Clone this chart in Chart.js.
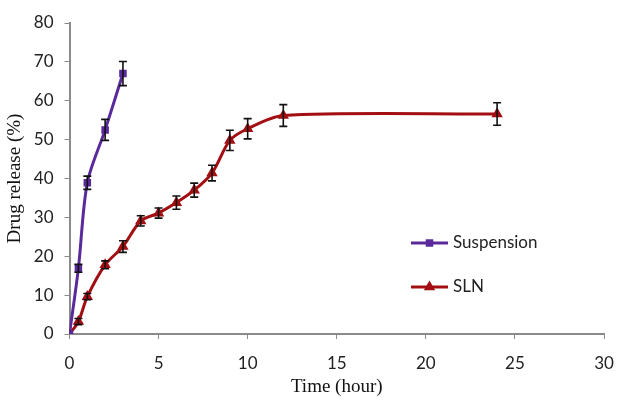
<!DOCTYPE html>
<html><head><meta charset="utf-8">
<script src="https://cdn.jsdelivr.net/npm/chart.js@4"></script>
<style>html,body{margin:0;padding:0;background:#fff}#wrap{width:617px;height:403px}</style>
</head><body><div id="wrap"><canvas id="c" width="617" height="403"></canvas></div>
<script>
const suspTime = [0, 0.5, 1, 2, 3];
const suspRelease = [0, 16.9, 38.9, 52.5, 67.0];
const suspErr = [0, 1.0, 1.7, 2.7, 3.1];
const slnTime = [0, 0.5, 1, 2, 3, 4, 5, 6, 7, 8, 9, 10, 12, 24];
const slnRelease = [0, 3.2, 9.6, 17.8, 22.5, 29.1, 31.1, 33.8, 37.0, 41.4, 49.8, 52.8, 56.2, 56.6];
const slnErr = [0, 0.8, 0.8, 1.0, 1.5, 1.3, 1.3, 1.7, 1.8, 2.0, 2.6, 2.6, 2.8, 2.9];
const xTicks = [0, 5, 10, 15, 20, 25, 30];
const yTicks = [0, 10, 20, 30, 40, 50, 60, 70, 80];
const seriesNames = ['Suspension', 'SLN'];

const PURPLE = '#5A2A9C', RED = '#A30E12';
const tickFont = {family: 'Lato', size: 17};
const titleFont = {family: 'Liberation Serif', size: 19};

function pts(xs, ys){ return xs.map((x,i)=>({x:x, y:ys[i]})); }

const errorBars = {
  id: 'errorBars',
  afterDatasetsDraw(chart){
    const ctx = chart.ctx, ys = chart.scales.y;
    const errs = [suspErr, slnErr];
    ctx.save();
    ctx.strokeStyle = '#111'; ctx.lineWidth = 1.6;
    chart.data.datasets.forEach((ds, di)=>{
      const meta = chart.getDatasetMeta(di);
      meta.data.forEach((el, i)=>{
        const e = errs[di][i]; if(!e) return;
        const v = ds.data[i].y;
        const t = ys.getPixelForValue(v+e), b = ys.getPixelForValue(v-e), x = el.x;
        ctx.beginPath();
        ctx.moveTo(x, t); ctx.lineTo(x, b);
        ctx.moveTo(x-4, t); ctx.lineTo(x+4, t);
        ctx.moveTo(x-4, b); ctx.lineTo(x+4, b);
        ctx.stroke();
      });
    });
    ctx.restore();
  }
};

const innerLegend = {
  id: 'innerLegend',
  afterDraw(chart){
    const ctx = chart.ctx;
    const items = [[seriesNames[0], PURPLE, 'rect', 243, 3.2], [seriesNames[1], RED, 'triangle', 287, 3.6]];
    ctx.save();
    items.forEach(([name, col, style, y, r])=>{
      ctx.strokeStyle = col; ctx.lineWidth = 3;
      ctx.beginPath(); ctx.moveTo(411, y); ctx.lineTo(448, y); ctx.stroke();
      ctx.fillStyle = col;
      Chart.helpers.drawPoint(ctx, {pointStyle: style, radius: r, borderWidth: 1}, 429.5, y);
      ctx.fillStyle = '#222'; ctx.font = '17px Lato'; ctx.textBaseline = 'middle';
      ctx.fillText(name, 453, y);
    });
    ctx.restore();
  }
};

new Chart(document.getElementById('c'), {
  type: 'line',
  data: {
    datasets: [
      {label: seriesNames[0], data: pts(suspTime, suspRelease), borderColor: PURPLE, backgroundColor: PURPLE,
       borderWidth: 3, pointStyle: 'rect', pointRadius: 3.2, tension: 0.3},
      {label: seriesNames[1], data: pts(slnTime, slnRelease), borderColor: RED, backgroundColor: RED,
       borderWidth: 3, pointStyle: 'triangle', pointRadius: 3.6, tension: 0.3}
    ]
  },
  options: {
    responsive: false, animation: false,
    layout: {padding: {left: 0, right: 13, top: 23, bottom: 0}},
    plugins: {legend: {display: false}, tooltip: {enabled: false}},
    scales: {
      x: {type: 'linear', min: 0, max: 30,
        afterBuildTicks: s => { s.ticks = xTicks.map(v=>({value:v})); },
        afterFit: s => { s.height = 69; s.paddingLeft = 0; s.paddingRight = 0; },
        grid: {drawOnChartArea: false, drawTicks: true, tickLength: 5, tickColor: '#8a8a8a'},
        border: {color: '#8a8a8a', width: 2},
        ticks: {font: tickFont, color: '#222', padding: 14, maxRotation: 0},
        title: {display: true, text: 'Time (hour)', font: titleFont, color: '#111', padding: {top: 0, bottom: 5}}
      },
      y: {type: 'linear', min: 0, max: 80,
        afterBuildTicks: s => { s.ticks = yTicks.map(v=>({value:v})); },
        afterFit: s => { s.width = 69.5; s.paddingTop = 0; s.paddingBottom = 0; },
        grid: {drawOnChartArea: false, drawTicks: true, tickLength: 5, tickColor: '#8a8a8a'},
        border: {color: '#8a8a8a', width: 2},
        ticks: {font: tickFont, color: '#222', padding: 11},
        title: {display: true, text: 'Drug release (%)', font: titleFont, color: '#111', padding: {top: 4, bottom: 0}}
      }
    }
  },
  plugins: [errorBars, innerLegend]
});
</script></body></html>
